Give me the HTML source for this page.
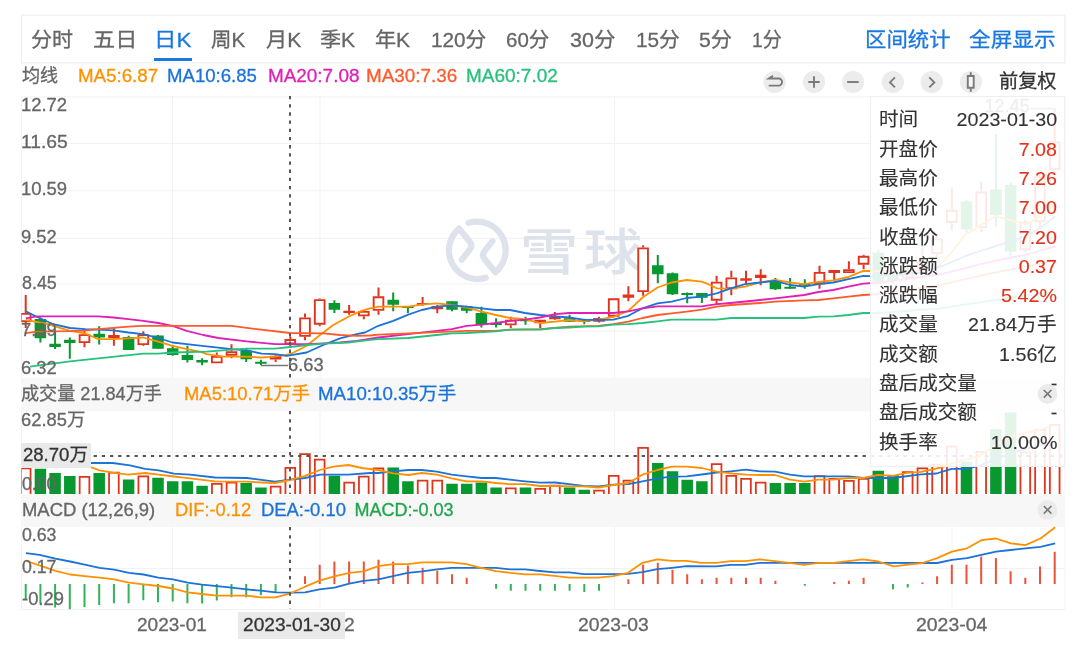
<!DOCTYPE html>
<html lang="zh-CN"><head><meta charset="utf-8"><title>K线图</title>
<style>
html,body{margin:0;padding:0;background:#fff;}
body{width:1080px;height:653px;position:relative;overflow:hidden;font-family:"Liberation Sans","Noto Sans CJK SC",sans-serif;}
.chart{position:absolute;left:0;top:0;}
.ul{position:absolute;left:154px;top:58px;width:38px;height:3px;background:#1a78de;}
.t{-webkit-text-stroke:0.3px currentColor;position:absolute;white-space:nowrap;transform-origin:0 50%;line-height:30px;height:30px;z-index:3;}
.lblbox{position:absolute;background:#e9e9e9;z-index:2;}
.panel{position:absolute;left:870px;top:96px;width:193px;height:369px;border:1px solid #eceff2;background:rgba(255,255,255,0.89);z-index:6;}
.row{-webkit-text-stroke:0.12px currentColor;position:absolute;left:7.5px;right:7px;height:30px;line-height:30px;font-size:19px;color:#333;white-space:nowrap;}
.row .v{position:absolute;right:0;top:0;transform:scaleX(1.035);transform-origin:100% 50%;}
.row .k{position:absolute;left:0;top:0;transform:scaleX(1.03);transform-origin:0 50%;}
</style></head><body>
<div class="ul"></div>
<svg class="chart" width="1080" height="653" viewBox="0 0 1080 653">
<rect x="21.5" y="15.1" width="1043.4" height="47.75" fill="none" stroke="#e9ecf0" stroke-width="1"/>
<rect x="21" y="378" width="1044" height="33.5" fill="#f7f7f7"/>
<rect x="21" y="495" width="1044" height="32" fill="#f7f7f7"/>
<path d="M21 96.9 H1065 M21 143.5 H1065 M21 190.8 H1065 M21 238.3 H1065 M21 284 H1065 M21 331 H1065 M21 452.5 H1065 M21 568.5 H1065 M21 609.5 H1065 M172.6 96 V378 M172.6 411 V494 M172.6 527 V609 M320 96 V378 M320 411 V494 M320 527 V609 M614.4 96 V378 M614.4 411 V494 M614.4 527 V609 M952 96 V378 M952 411 V494 M952 527 V609" stroke="#f2f2f2" stroke-width="1" fill="none"/>
<path d="M21.5 96 V378 M21.5 411 V494 M21.5 527 V609 M1064.9 96 V378 M1064.9 411 V494 M1064.9 527 V609" stroke="#f4f4f4" stroke-width="1" fill="none"/>
<g id="wm" transform="translate(477.35 250.25) scale(0.974) translate(-478 -250)" fill="none" stroke="#dde2eb" stroke-width="6.4" stroke-linecap="round" stroke-linejoin="round"><path d="M486.6 278.3 A29.4 29.4 0 0 1 459.2 227.7 L470 241 Q473.6 245.3 470 249.6 L462.1 259.7"/><path d="M468.9 221.9 A29.4 29.4 0 0 1 496.4 272.6 L485.6 259.3 Q482 255 485.6 250.7 L493.5 240.7"/></g>
<text id="wmt" transform="translate(519.9 269.6) scale(1.02 0.88)" x="0" y="0" font-family="Noto Sans CJK SC, sans-serif" font-weight="500" font-size="57" letter-spacing="5.5" fill="#dde2eb">雪球</text>
<defs><clipPath id="cp"><rect x="21.3" y="90" width="1043.7" height="525"/></clipPath></defs><g clip-path="url(#cp)">
<path d="M40.4 317.5 V342.5 M55.1 332 V349 M69.8 337.5 V358.7 M99.2 326.3 V344.5 M128.6 335.8 V350 M158 335 V348.7 M172.7 345 V355.8 M187.4 345.8 V362.5 M202.1 358.3 V365.3 M246.2 349.2 V362 M260.9 359.7 V365.3 M334.4 300.3 V313 M393.2 292.5 V311.3 M407.9 306.3 V313 M452 301.3 V311.3 M466.7 305.8 V313.3 M481.4 306.7 V327.5 M496.1 318.3 V327.5 M525.5 316.7 V324.7 M569.6 314.7 V322 M584.3 318.7 V324.2 M657.8 255 V283.3 M672.5 272.5 V295 M687.2 292.5 V303.3 M701.9 293 V303 M775.4 278 V290 M790.1 278 V288.7 M804.8 279.2 V288.7 M878.3 250 V283 M893 272 V284 M966.5 200 V232.7 M995.9 134 V226.8 M1010.6 182.5 V255.4" stroke="#07982f" stroke-width="2" fill="none"/>
<path d="M25.7 295 V313 M25.7 322 V328 M84.5 328.7 V334.2 M84.5 343 V347.3 M113.9 328 V345.8 M143.3 331.3 V334.2 M143.3 345 V345.8 M216.8 352.5 V355.8 M231.5 344.2 V351.3 M231.5 355.8 V358.3 M275.6 354.2 V355.8 M275.6 359.5 V362 M290.3 336.5 V339.1 M290.3 344.4 V348 M305 313.4 V317.5 M305 336.8 V340.2 M319.7 298.5 V299.2 M319.7 324.6 V326.3 M349.1 305 V314.7 M363.8 310.8 V311 M363.8 316.3 V319.2 M378.5 287.5 V296.4 M378.5 310.8 V314.7 M422.6 297 V305.8 M437.3 305 V313.3 M510.8 316.7 V319.7 M510.8 325.3 V328 M540.2 323.3 V328 M554.9 312 V319.7 M599 316.7 V322.5 M628.4 286.3 V301.3 M643.1 245.3 V247.5 M643.1 292 V295.8 M716.6 275.8 V281.7 M716.6 300.6 V304.2 M731.3 270.8 V277.5 M731.3 289.2 V295.3 M746 270.8 V284.2 M760.7 269.2 V285.3 M819.5 265.8 V272 M819.5 284.2 V288.7 M834.2 270 V280 M848.9 261.3 V269.2 M863.6 254.7 V255.8 M863.6 264.7 V269.2 M907.7 266 V270 M907.7 278 V280 M922.4 243.7 V262 M922.4 272 V273 M937.1 233 V238.5 M937.1 254 V259 M951.8 187.7 V209.8 M951.8 222.9 V230.7 M981.2 181.2 V191.6 M981.2 228 V232 M1025.3 220 V221.6 M1025.3 250.2 V252 M1040 172 V176 M1040 222 V228 M1054.7 108 V141.5 M1054.7 170 V175" stroke="#e0341c" stroke-width="2" fill="none"/>
<path d="M34.65 319 h11.5 v19.3 h-11.5 z M49.35 343.7 h11.5 v3.3 h-11.5 z M64.05 339.7 h11.5 v3.3 h-11.5 z M93.45 333.7 h11.5 v3.8 h-11.5 z M122.85 337 h11.5 v13 h-11.5 z M152.25 335.5 h11.5 v13.2 h-11.5 z M166.95 348.3 h11.5 v6.7 h-11.5 z M181.65 355 h11.5 v5 h-11.5 z M196.35 360 h11.5 v2.5 h-11.5 z M240.45 350.5 h11.5 v8.7 h-11.5 z M255.15 361.7 h11.5 v2 h-11.5 z M328.65 303 h11.5 v6.7 h-11.5 z M387.45 299.7 h11.5 v5 h-11.5 z M402.15 306.3 h11.5 v1.7 h-11.5 z M446.25 301.3 h11.5 v8.4 h-11.5 z M460.95 306.3 h11.5 v4.5 h-11.5 z M475.65 313 h11.5 v11.7 h-11.5 z M490.35 323 h11.5 v2 h-11.5 z M519.75 319.7 h11.5 v1.5 h-11.5 z M563.85 318.3 h11.5 v3.4 h-11.5 z M578.55 320.3 h11.5 v1.7 h-11.5 z M652.05 265.3 h11.5 v8.9 h-11.5 z M666.75 273.3 h11.5 v20.9 h-11.5 z M681.45 293 h11.5 v2 h-11.5 z M696.15 293 h11.5 v4.8 h-11.5 z M769.65 280 h11.5 v9.2 h-11.5 z M784.35 286.7 h11.5 v2 h-11.5 z M799.05 283.7 h11.5 v2.1 h-11.5 z M872.55 252.8 h11.5 v28.6 h-11.5 z M887.25 275 h11.5 v6 h-11.5 z M960.75 201.5 h11.5 v27.9 h-11.5 z M990.15 189.6 h11.5 v25.4 h-11.5 z M1004.85 185 h11.5 v66.5 h-11.5 z" fill="#07982f"/>
<path d="M108.15 335 h11.5 v3 h-11.5 z M343.35 310.8 h11.5 v2.2 h-11.5 z M416.85 303 h11.5 v2 h-11.5 z M431.55 306.1 h11.5 v3.1 h-11.5 z M549.15 317 h11.5 v2.2 h-11.5 z M593.25 318 h11.5 v3.7 h-11.5 z M622.65 294.5 h11.5 v3.3 h-11.5 z M740.25 278.3 h11.5 v2.5 h-11.5 z M754.95 274.7 h11.5 v3.3 h-11.5 z M828.45 270 h11.5 v3 h-11.5 z" fill="#e0341c"/>
<path d="M20.85 313.9 h9.7 v7.2 h-9.7 z M79.65 335.1 h9.7 v7 h-9.7 z M138.45 335.1 h9.7 v9 h-9.7 z M211.95 356.7 h9.7 v5.7 h-9.7 z M226.65 352.2 h9.7 v2.7 h-9.7 z M270.75 356.7 h9.7 v1.9 h-9.7 z M285.45 340 h9.7 v3.5 h-9.7 z M300.15 318.4 h9.7 v17.5 h-9.7 z M314.85 300.1 h9.7 v23.6 h-9.7 z M358.95 311.9 h9.7 v3.5 h-9.7 z M373.65 297.3 h9.7 v12.6 h-9.7 z M505.95 320.6 h9.7 v3.8 h-9.7 z M535.35 320.6 h9.7 v1.8 h-9.7 z M608.85 299.2 h9.7 v16.6 h-9.7 z M638.25 248.4 h9.7 v42.7 h-9.7 z M711.75 282.6 h9.7 v17.1 h-9.7 z M726.45 278.4 h9.7 v9.9 h-9.7 z M814.65 272.9 h9.7 v10.4 h-9.7 z M844.05 270.1 h9.7 v2 h-9.7 z M858.75 256.7 h9.7 v7.1 h-9.7 z M902.85 270.9 h9.7 v6.2 h-9.7 z M917.55 262.9 h9.7 v8.2 h-9.7 z M932.25 239.4 h9.7 v13.7 h-9.7 z M946.95 210.7 h9.7 v11.3 h-9.7 z M976.35 192.5 h9.7 v34.6 h-9.7 z M1020.45 222.5 h9.7 v26.8 h-9.7 z M1035.15 176.9 h9.7 v44.2 h-9.7 z M1049.85 142.4 h9.7 v26.7 h-9.7 z" fill="#fff" stroke="#e0341c" stroke-width="1.9"/>
<path d="M261 365.5 H288 M1030 108.5 H1054" stroke="#777" stroke-width="1.4" fill="none"/>
<polyline points="25.8,320 45,323.3 70,330.8 85,333.3 98.3,339.2 113.3,339.2 128.3,338.3 143.3,337.5 158.3,341.7 172.5,345.8 186.7,349.2 200,351.7 206.7,354.2 223.3,356.7 246.7,356.7 261.7,357.5 275,356.7 290,354.2 306.7,345.8 320,335 333.3,325 348.3,316.7 361.7,310.8 370,308.3 378.3,306.7 393.3,306.7 408.3,306.7 421.7,304.7 436.7,303.3 451.7,305 466.7,307.5 481.7,311.7 495.8,315 510,318 525,319.2 540,323 555,321.7 569.2,320 583.3,321.3 598.3,319.7 613.3,317 628.3,310.8 642.5,297.5 657.5,287.5 671.7,282.5 686.7,280 701.7,281.7 708.3,284.2 716.7,288.3 730.8,288.7 745,286.7 760,282.5 775,280 790,282.5 804.2,284.2 818.3,282 833.3,280.3 848.3,277 863.3,270.8 878,271 893,272.5 908,273 923,271 938,267 952,252 964,235.9 981,225 995.3,216.4 1011,220.3 1026.5,224.2 1042,215 1055,203.3" fill="none" stroke="#ff9100" stroke-width="1.8" stroke-linejoin="round"/>
<polyline points="25.8,311.3 36.7,316.7 53.3,324.2 70,328 85,329.2 98.3,329.7 113.3,330.3 128.3,332.5 143.3,334.2 158.3,338 172.5,342.5 186.7,344.2 206.7,346.3 231.7,349.2 246.7,350.3 261.7,353.7 275,354.2 286.7,355.8 306.7,352.5 323.3,345 340,338.3 356.7,334.2 365,332.5 378.3,325.8 393.3,320.8 408.3,314.7 421.7,310 436.7,306.7 451.7,305.3 466.7,306.7 481.7,308.3 495.8,310 510,310 525,313 540,315 555,316.3 569.2,317.5 583.3,319.7 598.3,320 613.3,319.7 628.3,315.8 642.5,308.3 657.5,303.3 671.7,301.7 686.7,298 701.7,296.7 716.7,293.3 730.8,288.3 745,284.2 760,282.5 775,280.8 790,285 804.2,286.7 818.3,284.2 833.3,282.5 848.3,279.2 863.3,275.8 878,276.3 900,275 925,272.3 945,265 964,256.7 980,251 995.3,246.3 1011,241 1026.5,235.9 1042,227 1055,216.4" fill="none" stroke="#1b72d8" stroke-width="1.8" stroke-linejoin="round"/>
<polyline points="25.8,318.3 36.7,316.4 98.3,316.4 113.3,317.5 128.3,319.2 143.3,320.8 158.3,323 172.5,325.8 186.7,330.8 203.3,335 218.3,338 246.7,341.3 275,344.2 290,344.2 306.7,344.2 323.3,343.3 340,342.5 356.7,340.8 378.3,337.5 408.3,334.2 436.7,330.8 451.7,329.2 466.7,325.8 481.7,324.7 495.8,323 510,320.8 525,319.7 540,317.5 555,314.2 569.2,313 598.3,313 613.3,313 628.3,311.3 642.5,308.3 657.5,306.3 701.7,306.3 716.7,304.2 730.8,303 760,300 775,298.3 804.2,295 818.3,292 833.3,290 848.3,286.7 863.3,283.7 880,282.5 938,274.9 990,261.9 1029,254 1055,246.3" fill="none" stroke="#e01fb4" stroke-width="1.8" stroke-linejoin="round"/>
<polyline points="25.8,333.2 36.7,331.7 70,331.2 84,330.6 98.3,329.2 113.3,327.8 128.3,326.6 143.3,325.8 231.7,325.8 256.7,329.2 290,333 323.3,333.3 340,335 356.7,335.8 370,335.5 378.3,334.7 408.3,333.3 436.7,332.2 466.7,330.8 495.8,330.8 510,329.7 540,329.2 569.2,326.7 598.3,325.8 613.3,324.2 628.3,321.7 642.5,318 657.5,315 671.7,313.3 686.7,311.7 701.7,309.7 716.7,306.7 730.8,305 760,303 775,301.7 804.2,300.3 818.3,300 833.3,298.3 848.3,296.7 863.3,295 880,294 938,285.3 990,273.6 1055,260.6" fill="none" stroke="#ff5a2a" stroke-width="1.8" stroke-linejoin="round"/>
<polyline points="30,366.7 70,361.3 98.3,358.3 143.3,353.7 158.3,353.7 172.5,352.5 206.7,351.7 231.7,349.7 246.7,348.7 275,348.7 290,347 306.7,345 323.3,343.7 348.3,342.5 370,339.9 378.3,339.2 408.3,338 436.7,335 451.7,333.3 466.7,333 495.8,331.3 510,329.7 540,329.7 555,328 569.2,327.5 583.3,326.7 598.3,326.3 613.3,324.7 628.3,324.2 642.5,323 657.5,321.3 671.7,319.7 716.7,319.7 730.8,318 804.2,318 818.3,316.7 833.3,316.3 848.3,315 863.3,313 880,313 938,308.7 990,300.9 1055,291.8" fill="none" stroke="#27c07d" stroke-width="1.8" stroke-linejoin="round"/>
<path d="M34.65 468.8 h11.5 V494 h-11.5 z M49.35 473 h11.5 V494 h-11.5 z M64.05 475.9 h11.5 V494 h-11.5 z M93.45 473 h11.5 V494 h-11.5 z M122.85 479.4 h11.5 V494 h-11.5 z M152.25 477.8 h11.5 V494 h-11.5 z M166.95 481.3 h11.5 V494 h-11.5 z M181.65 481.3 h11.5 V494 h-11.5 z M196.35 485.8 h11.5 V494 h-11.5 z M240.45 483 h11.5 V494 h-11.5 z M255.15 487.5 h11.5 V494 h-11.5 z M328.65 475.8 h11.5 V494 h-11.5 z M387.45 467.5 h11.5 V494 h-11.5 z M402.15 481.3 h11.5 V494 h-11.5 z M446.25 483.8 h11.5 V494 h-11.5 z M460.95 483.8 h11.5 V494 h-11.5 z M475.65 482.5 h11.5 V494 h-11.5 z M490.35 487.5 h11.5 V494 h-11.5 z M519.75 487.5 h11.5 V494 h-11.5 z M563.85 487.5 h11.5 V494 h-11.5 z M578.55 489.7 h11.5 V494 h-11.5 z M652.05 463 h11.5 V494 h-11.5 z M666.75 471.3 h11.5 V494 h-11.5 z M681.45 479.7 h11.5 V494 h-11.5 z M696.15 481.3 h11.5 V494 h-11.5 z M769.65 483 h11.5 V494 h-11.5 z M784.35 483 h11.5 V494 h-11.5 z M799.05 483 h11.5 V494 h-11.5 z M872.55 470.8 h11.5 V494 h-11.5 z M887.25 474.9 h11.5 V494 h-11.5 z M960.75 461.7 h11.5 V494 h-11.5 z M990.15 429 h11.5 V494 h-11.5 z M1004.85 412.4 h11.5 V494 h-11.5 z" fill="#07982f"/>
<path d="M20.85 494 V468.3 h9.7 V494 M79.65 494 V476.8 h9.7 V494 M109.05 494 V472.6 h9.7 V494 M138.45 494 V476.4 h9.7 V494 M211.95 494 V483.9 h9.7 V494 M226.65 494 V482.6 h9.7 V494 M270.75 494 V486.7 h9.7 V494 M285.45 494 V467.9 h9.7 V494 M300.15 494 V454.2 h9.7 V494 M314.85 494 V459.6 h9.7 V494 M344.25 494 V482.6 h9.7 V494 M358.95 494 V476.7 h9.7 V494 M373.65 494 V468.4 h9.7 V494 M417.75 494 V480.6 h9.7 V494 M432.45 494 V480.6 h9.7 V494 M505.95 494 V488.4 h9.7 V494 M535.35 494 V488.9 h9.7 V494 M550.05 494 V485.6 h9.7 V494 M594.15 494 V490.6 h9.7 V494 M608.85 494 V475.9 h9.7 V494 M623.55 494 V480.6 h9.7 V494 M638.25 494 V447.9 h9.7 V494 M711.75 494 V464.2 h9.7 V494 M726.45 494 V475.9 h9.7 V494 M741.15 494 V478.9 h9.7 V494 M755.85 494 V482.6 h9.7 V494 M814.65 494 V476.2 h9.7 V494 M829.35 494 V478.9 h9.7 V494 M844.05 494 V480.9 h9.7 V494 M858.75 494 V478.9 h9.7 V494 M902.85 494 V472.1 h9.7 V494 M917.55 494 V468.3 h9.7 V494 M932.25 494 V464.6 h9.7 V494 M946.95 494 V446.7 h9.7 V494 M976.35 494 V451.9 h9.7 V494 M1020.45 494 V452.4 h9.7 V494 M1035.15 494 V429.9 h9.7 V494 M1049.85 494 V424.9 h9.7 V494" fill="#fff" stroke="#e0341c" stroke-width="1.8"/>
<path d="M20 456 H1065" stroke="#555" stroke-width="2" stroke-dasharray="3.3 4.88" fill="none"/>
<polyline points="90.6,463 112.7,463 130,465.4 145.2,468.8 158.6,470.4 174,473.6 190,474.7 215,477.5 246.7,478 275,481.7 290,479.7 305,478 320,474.7 348.3,474.7 370,473 378.3,473 393.3,471.3 408.3,470 421.7,470 436.7,471.7 451.7,474.7 466.7,476.3 481.7,478 495.8,478 510,479.7 525,481.3 540,482.7 555,482.5 569.2,484.2 583.3,485.8 598.3,486.3 613.3,484.7 628.3,484.2 642.5,481.3 657.5,478.3 671.7,476.7 686.7,476.3 701.7,474.5 716.7,472.5 730.8,471.3 745.8,469.7 760,471.3 775,471.7 790,474.7 804.2,476.3 848.3,476.3 863.3,478 892.6,478 921,474.3 936.4,473.5 951.7,468.8 966,468.8 980,465.7 994.4,459.6 1009.7,453.5 1024,449.4 1039.2,445.4 1053.5,441.3" fill="none" stroke="#1b72d8" stroke-width="1.8" stroke-linejoin="round"/>
<polyline points="90.6,467 99.3,470.4 112.7,472.7 128,474.6 145.2,473 158.6,474.6 174,476.5 190,478.3 215,481.3 246.7,481.7 261.7,482.5 275,483 290,480 305,475.8 320,470 333.3,466.7 348.3,465 361.7,468 378.3,470 393.3,473.3 408.3,475 421.7,473 436.7,474.7 451.7,478.3 466.7,481.3 481.7,481.3 495.8,483 510,484.2 525,484.2 540,486 555,485.8 569.2,486.3 583.3,486.3 598.3,487.5 613.3,485 628.3,483 642.5,474.7 657.5,470 671.7,466.7 686.7,466.7 701.7,468 716.7,471.7 730.8,473.3 745.8,474.7 760,475 775,475 790,479.7 804.2,481.7 818.3,479.7 833.3,479.7 848.3,478 863.3,478 878.3,474.9 892.6,475.9 906.9,472.9 921,471.9 941.5,467.4 951.7,463.7 966,459.6 980,455.6 994.4,445.4 1009.7,437.2 1024,433.1 1039.2,430.1 1053.5,425" fill="none" stroke="#ff9100" stroke-width="1.8" stroke-linejoin="round"/>
<path d="M25.7 584 V599 M40.4 584 V603.2 M55.1 584 V607.6 M69.8 584 V609.3 M84.5 584 V607 M99.2 584 V605.1 M113.9 584 V603.2 M128.6 584 V603.2 M143.3 584 V600.2 M158 584 V602.2 M172.7 584 V601.4 M187.4 584 V603.2 M202.1 584 V603.6 M216.8 584 V600.6 M231.5 584 V597.3 M246.2 584 V597.3 M260.9 584 V595.3 M275.6 584 V592 M496.1 584 V588.7 M510.8 584 V590.7 M525.5 584 V590.7 M540.2 584 V590.7 M554.9 584 V590.7 M569.6 584 V590.7 M584.3 584 V592 M599 584 V590.7 M804.8 584 V585.7 M893 584 V589.2 M907.7 584 V587.5" stroke="#2fb457" stroke-width="2" fill="none"/>
<path d="M305 584 V576.2 M319.7 584 V564.8 M334.4 584 V561.4 M349.1 584 V561.4 M363.8 584 V561.4 M378.5 584 V559.8 M393.2 584 V561.4 M407.9 584 V565.4 M422.6 584 V567.8 M437.3 584 V570.8 M452 584 V574.2 M466.7 584 V577.7 M628.4 584 V579.3 M643.1 584 V564.8 M657.8 584 V562.8 M672.5 584 V569.8 M687.2 584 V574.2 M701.9 584 V579.3 M716.6 584 V577.7 M731.3 584 V577.7 M746 584 V577.7 M760.7 584 V577.7 M775.4 584 V580.7 M834.2 584 V582.1 M848.9 584 V580.7 M863.6 584 V577.7 M922.4 584 V582.6 M937.1 584 V576.2 M951.8 584 V564.7 M966.5 584 V564.7 M981.2 584 V556.6 M995.9 584 V558.1 M1010.6 584 V571.3 M1025.3 584 V577.7 M1040 584 V566.4 M1054.7 584 V551.7" stroke="#e8533a" stroke-width="2" fill="none"/>
<polyline points="26,553.2 39.5,554.9 55.4,558.6 70.1,561.5 84.8,564.7 99.5,567.9 114.2,569.6 128.9,572.8 143.6,574.5 158.3,577.7 173,579.4 187.7,582.6 202,584.7 216.9,586.1 231.8,587.7 246.7,589.3 260.7,590.7 275.6,592.3 290.6,592.7 305.1,592.3 319.4,589.3 334.4,587.7 349.3,583.7 363.6,580.8 378.3,579.3 393,576.2 407.8,572.8 422.3,571.4 437,569.4 451.6,567.8 495.8,567.8 510.3,569.4 525,569.4 540,571 554.5,572.4 569.2,572.4 583.8,574.2 613.2,574.2 628,573.8 642.5,572.2 657.2,569.2 672,567.8 686.5,566.2 716,566.4 730.7,564.8 745.2,564.8 760,562.8 880,562.9 937.2,563 951.9,559.8 967,558.1 981.3,554.9 996,551.7 1010.7,550 1025.4,548.3 1040.5,546.8 1055.2,543.4" fill="none" stroke="#1b72d8" stroke-width="1.8" stroke-linejoin="round"/>
<polyline points="26,561 39.5,565.4 55.4,570.8 70.1,574.5 84.8,576.2 99.5,577.7 114.2,579.4 128.9,582.6 143.6,584.3 158.3,586 173,588.5 187.7,592.4 202,594 216.9,595.7 246.7,595.7 260.7,597.3 275.6,597.3 290.6,593.3 305.1,586.7 319.4,580.7 334.4,576.4 349.3,572.8 363.6,571.4 378.3,566.2 393,564.2 407.8,564.2 422.3,562.4 451.6,562.4 466.3,564.2 481,567.8 495.8,571.2 510.3,572.8 525,574.4 540,574.3 554.5,575.8 569.2,577.7 598.5,577.7 613.2,576.2 628,572.8 642.5,562.8 657.2,559.4 672,560.8 686.5,560.8 701.2,562.8 716,562.8 730.7,561.2 745.2,561.2 760,559.4 774.7,561.2 789.4,562.8 804,564.8 818.7,562.8 833.4,562.8 848.1,561.2 862.7,559.4 878.4,561.5 893.6,566.4 908.3,564.7 922.5,563 937.2,558.1 951.9,551.7 967,548.3 981.3,540.2 996,538.5 1010.7,543.4 1025.4,545.1 1040.5,538.5 1055.2,527.2" fill="none" stroke="#ff9100" stroke-width="1.8" stroke-linejoin="round"/>
</g>
</svg>
<div class="lblbox" style="left:21px;top:443px;width:69.6px;height:25.4px;"></div>
<span class="t" style="left:22.6px;top:439.5px;font-size:18px;color:#333;transform:scaleX(1.03);">28.70万</span>
<span class="t tab" id="t0" style="left:31px;top:25px;font-size:20.5px;color:#666;transform:scaleX(1.026);">分时</span>
<span class="t tab" id="t1" style="left:93px;top:25px;font-size:20.5px;color:#666;transform:scaleX(1.081);">五日</span>
<span class="t tab" id="t2" style="left:154px;top:25px;font-size:20.5px;color:#1a78de;transform:scaleX(1.098);">日K</span>
<span class="t tab" id="t3" style="left:211px;top:25px;font-size:20.5px;color:#666;">周K</span>
<span class="t tab" id="t4" style="left:266px;top:25px;font-size:20.5px;color:#666;transform:scaleX(1.032);">月K</span>
<span class="t tab" id="t5" style="left:320px;top:25px;font-size:20.5px;color:#666;transform:scaleX(1.030);">季K</span>
<span class="t tab" id="t6" style="left:375px;top:25px;font-size:20.5px;color:#666;transform:scaleX(1.030);">年K</span>
<span class="t tab" id="t7" style="left:431px;top:25px;font-size:20.5px;color:#666;transform:scaleX(1.012);">120分</span>
<span class="t tab" id="t8" style="left:506px;top:25px;font-size:20.5px;color:#666;">60分</span>
<span class="t tab" id="t9" style="left:570px;top:25px;font-size:20.5px;color:#666;transform:scaleX(1.049);">30分</span>
<span class="t tab" id="t10" style="left:636px;top:25px;font-size:20.5px;color:#666;transform:scaleX(1.013);">15分</span>
<span class="t tab" id="t11" style="left:699px;top:25px;font-size:20.5px;color:#666;transform:scaleX(1.033);">5分</span>
<span class="t tab" id="t12" style="left:752px;top:25px;font-size:20.5px;color:#666;transform:scaleX(0.933);">1分</span>
<span class="t tab" id="t13" style="left:864.8px;top:25px;font-size:20.5px;color:#1a78de;transform:scaleX(1.043);">区间统计</span>
<span class="t tab" id="t14" style="left:969px;top:25px;font-size:20.5px;color:#1a78de;transform:scaleX(1.056);">全屏显示</span>
<span class="t " id="t15" style="left:22px;top:61px;font-size:17.8px;color:#666;transform:scaleX(1.016);">均线</span>
<span class="t " id="t16" style="left:78px;top:61px;font-size:18px;color:#ff9100;transform:scaleX(1.040);">MA5:6.87</span>
<span class="t " id="t17" style="left:167.4px;top:61px;font-size:18px;color:#1b72d8;transform:scaleX(1.033);">MA10:6.85</span>
<span class="t " id="t18" style="left:267.8px;top:61px;font-size:18px;color:#e01fb4;transform:scaleX(1.050);">MA20:7.08</span>
<span class="t " id="t19" style="left:366px;top:61px;font-size:18px;color:#ff5a2a;transform:scaleX(1.048);">MA30:7.36</span>
<span class="t " id="t20" style="left:466px;top:61px;font-size:18px;color:#27c07d;transform:scaleX(1.054);">MA60:7.02</span>
<span class="t " id="t21" style="left:999px;top:67px;font-size:19px;color:#333;transform:scaleX(1.009);">前复权</span>
<span class="t " id="t22" style="left:21px;top:89.5px;font-size:18px;color:#666;transform:scaleX(1.024);">12.72</span>
<span class="t " id="t23" style="left:21px;top:127px;font-size:18px;color:#666;transform:scaleX(1.071);">11.65</span>
<span class="t " id="t24" style="left:21px;top:174.2px;font-size:18px;color:#666;transform:scaleX(1.024);">10.59</span>
<span class="t " id="t25" style="left:21px;top:221.8px;font-size:18px;color:#666;transform:scaleX(1.020);">9.52</span>
<span class="t " id="t26" style="left:22px;top:267.6px;font-size:18px;color:#666;transform:scaleX(0.992);">8.45</span>
<span class="t " id="t27" style="left:21.4px;top:315px;font-size:18px;color:#666;transform:scaleX(1.018);">7.39</span>
<span class="t " id="t28" style="left:21px;top:353px;font-size:18px;color:#666;transform:scaleX(1.020);">6.32</span>
<span class="t " id="t29" style="left:287.6px;top:349.5px;font-size:18px;color:#666;transform:scaleX(1.018);">6.63</span>
<span class="t " id="t30" style="left:21px;top:379px;font-size:18px;color:#666;transform:scaleX(1.006);">成交量 21.84万手</span>
<span class="t " id="t31" style="left:184.2px;top:379px;font-size:18px;color:#ff9100;transform:scaleX(1.024);">MA5:10.71万手</span>
<span class="t " id="t32" style="left:318px;top:379px;font-size:18px;color:#1b72d8;transform:scaleX(1.038);">MA10:10.35万手</span>
<span class="t " id="t33" style="left:20.9px;top:404.5px;font-size:18px;color:#666;transform:scaleX(1.019);">62.85万</span>
<span class="t " id="t34" style="left:22.3px;top:468.7px;font-size:18px;color:#666;transform:scaleX(0.984);">0.00</span>
<span class="t " id="t35" style="left:21.5px;top:494.7px;font-size:18px;color:#666;transform:scaleX(1.024);">MACD (12,26,9)</span>
<span class="t " id="t36" style="left:175.4px;top:494.7px;font-size:18px;color:#ff9100;transform:scaleX(1.015);">DIF:-0.12</span>
<span class="t " id="t37" style="left:260.6px;top:494.7px;font-size:18px;color:#1b72d8;transform:scaleX(1.023);">DEA:-0.10</span>
<span class="t " id="t38" style="left:354.6px;top:494.7px;font-size:18px;color:#1fa64c;">MACD:-0.03</span>
<span class="t " id="t39" style="left:22.3px;top:519.7px;font-size:18px;color:#666;transform:scaleX(0.984);">0.63</span>
<span class="t " id="t40" style="left:22.3px;top:551.5px;font-size:18px;color:#666;transform:scaleX(0.984);">0.17</span>
<span class="t " id="t41" style="left:22.4px;top:584px;font-size:18px;color:#666;transform:scaleX(1.022);">-0.29</span>
<span class="t " id="t42" style="left:137px;top:610px;font-size:18.5px;color:#666;transform:scaleX(1.028);">2023-01</span>
<span class="t " id="t43" style="left:284.2px;top:610px;font-size:18.5px;color:#666;transform:scaleX(1.043);">2023-02</span>
<span class="t " id="t44" style="left:577.8px;top:610px;font-size:18.5px;color:#666;transform:scaleX(1.043);">2023-03</span>
<span class="t " id="t45" style="left:915.8px;top:610px;font-size:18.5px;color:#666;transform:scaleX(1.050);">2023-04</span>
<svg class="chart" style="z-index:5" width="1080" height="653" viewBox="0 0 1080 653"><path d="M290 96 V378 M290 411 V494 M290 527 V609" stroke="#555" stroke-width="2" stroke-dasharray="3.3 4.88" fill="none"/></svg>
<div class="lblbox" style="left:238px;top:612px;width:107px;height:27px;z-index:5"></div>
<span class="t" style="left:242.6px;top:609.6px;font-size:18.5px;color:#333;z-index:6;transform:scaleX(1.034);" id="xh">2023-01-30</span>
<span class="t" style="left:984.6px;top:91px;font-size:18px;color:#666;z-index:4" id="hi">12.45</span>
<div class="panel"><div class="row" id="r0" style="top:8.3px"><span class="k">时间</span><span class="v" style="color:#333">2023-01-30</span></div><div class="row" id="r1" style="top:37.6px"><span class="k">开盘价</span><span class="v" style="color:#e0321a">7.08</span></div><div class="row" id="r2" style="top:66.9px"><span class="k">最高价</span><span class="v" style="color:#e0321a">7.26</span></div><div class="row" id="r3" style="top:96.2px"><span class="k">最低价</span><span class="v" style="color:#e0321a">7.00</span></div><div class="row" id="r4" style="top:125.5px"><span class="k">收盘价</span><span class="v" style="color:#e0321a">7.20</span></div><div class="row" id="r5" style="top:154.8px"><span class="k">涨跌额</span><span class="v" style="color:#e0321a">0.37</span></div><div class="row" id="r6" style="top:184.1px"><span class="k">涨跌幅</span><span class="v" style="color:#e0321a">5.42%</span></div><div class="row" id="r7" style="top:213.4px"><span class="k">成交量</span><span class="v" style="color:#333">21.84万手</span></div><div class="row" id="r8" style="top:242.7px"><span class="k">成交额</span><span class="v" style="color:#333">1.56亿</span></div><div class="row" id="r9" style="top:272px"><span class="k">盘后成交量</span><span class="v" style="color:#333">-</span></div><div class="row" id="r10" style="top:301.3px"><span class="k">盘后成交额</span><span class="v" style="color:#333">-</span></div><div class="row" id="r11" style="top:330.6px"><span class="k">换手率</span><span class="v" style="color:#333">10.00%</span></div></div>
<svg class="chart" style="z-index:7" width="1080" height="653" viewBox="0 0 1080 653">
<g fill="#ececec"><circle cx="774.7" cy="82" r="11.1"/><circle cx="814" cy="82" r="11.1"/><circle cx="853.1" cy="82" r="11.1"/><circle cx="892.9" cy="82" r="11.1"/><circle cx="931.7" cy="82" r="11.1"/><circle cx="970.9" cy="82" r="11.1"/></g>
<g fill="none" stroke="#7a7a7a" stroke-width="1.9" stroke-linecap="butt" stroke-linejoin="miter">
<path d="M773 75.9 L768.9 78.5 H778.5 A3.55 3.55 0 0 1 778.5 85.6 H768.7"/>
<path d="M808.3 82 H819.7 M814 76.2 V87.8"/>
<path d="M847.1 82 H858.7"/>
<path d="M894.9 77.4 L890 82.4 L894.9 87.4"/>
<path d="M929.3 77.4 L934.3 82.4 L929.3 87.4"/>
<path d="M967.8 76 h5.9 v11.8 h-5.9 z" fill="#f6f6f6"/><path d="M970.75 72.2 V75.5 M970.75 88.3 V91.7"/>
</g>
<g fill="#ebebeb"><circle cx="1047.5" cy="394" r="9.9"/><circle cx="1047.5" cy="509.9" r="9.9"/></g>
<g fill="none" stroke="#777" stroke-width="1.6" stroke-linecap="butt"><path d="M1043.8 390 l7.6 7.6 m0 -7.6 l-7.6 7.6 M1043.8 506 l7.6 7.6 m0 -7.6 l-7.6 7.6"/></g>
</svg>
</body></html>
